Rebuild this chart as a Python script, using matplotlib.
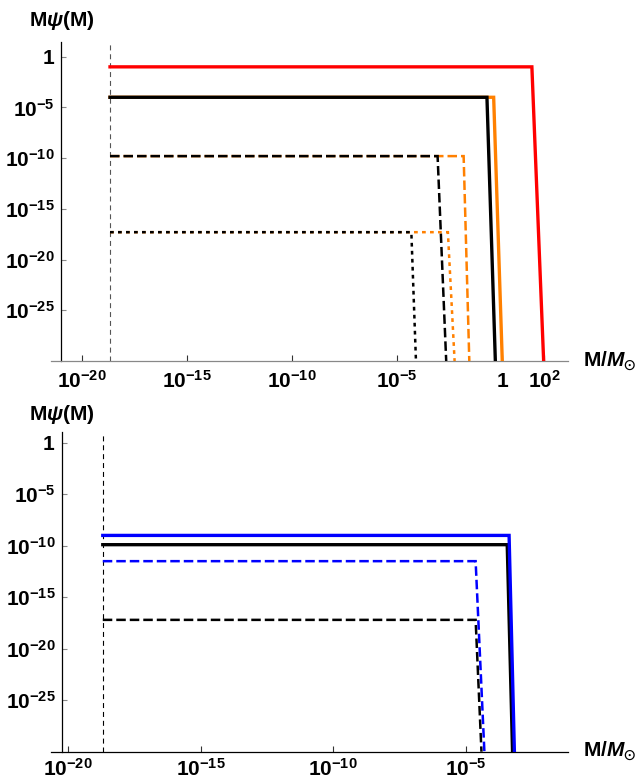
import numpy as np
import matplotlib
matplotlib.use('Agg')
import matplotlib.pyplot as plt

plt.rcParams['mathtext.fontset'] = 'custom'
plt.rcParams['mathtext.rm'] = 'Liberation Sans'
plt.rcParams['mathtext.bf'] = 'Liberation Sans:bold'
plt.rcParams['mathtext.it'] = 'Liberation Sans:bold:italic'
plt.rcParams['mathtext.fallback'] = 'stix'
plt.rcParams['font.family'] = ['Liberation Sans', 'DejaVu Sans']
plt.rcParams['font.weight'] = 'bold'

# ---------------- data ----------------
M_MIN = 10 ** -18.68          # lower mass cut (vertical dashed line)
Y_FLOOR = 1e-30

# top panel curves
top_colors = ['#FF8000', 'black', '#FF8000', 'black', '#FF8000', 'black', '#FF0000']
top_styles = ['solid', 'solid', 'dashed', 'dashed', 'dotted', 'dotted', 'solid']
top_levels = [1e-4, 1e-4, 10 ** -9.8, 10 ** -9.8, 10 ** -17.3, 10 ** -17.3, 1e-1]
top_knees = [10 ** -0.41, 10 ** -0.73, 10 ** -1.84, 10 ** -3.08, 10 ** -2.59, 10 ** -4.33, 10 ** 1.41]
top_ends = [10 ** 0.0, 10 ** -0.33, 10 ** -1.57, 10 ** -2.67, 10 ** -2.27, 10 ** -4.11, 10 ** 1.97]

# bottom panel curves
bot_colors = ['black', 'blue', 'black', 'blue']
bot_styles = ['solid', 'solid', 'dashed', 'dashed']
bot_levels = [10 ** -9.9, 1e-9, 10 ** -17.2, 10 ** -11.5]
bot_knees = [10 ** -3.45, 10 ** -3.38, 10 ** -4.64, 10 ** -4.64]
bot_ends = [10 ** -3.25, 10 ** -3.18, 10 ** -4.42, 10 ** -4.31]

y_tick_vals = [1, 1e-5, 1e-10, 1e-15, 1e-20, 1e-25]
y_tick_labels = [r'$\mathbf{1}$', r'$\mathbf{10^{-5}}$', r'$\mathbf{10^{-10}}$',
                 r'$\mathbf{10^{-15}}$', r'$\mathbf{10^{-20}}$', r'$\mathbf{10^{-25}}$']
top_x_tick_vals = [1e-20, 1e-15, 1e-10, 1e-5, 1, 1e2]
top_x_tick_labels = [r'$\mathbf{10^{-20}}$', r'$\mathbf{10^{-15}}$', r'$\mathbf{10^{-10}}$',
                     r'$\mathbf{10^{-5}}$', r'$\mathbf{1}$', r'$\mathbf{10^{2}}$']
bot_x_tick_vals = [1e-20, 1e-15, 1e-10, 1e-5]
bot_x_tick_labels = [r'$\mathbf{10^{-20}}$', r'$\mathbf{10^{-15}}$', r'$\mathbf{10^{-10}}$',
                     r'$\mathbf{10^{-5}}$']

W, H = 636, 779
fig = plt.figure(figsize=(W / 100, H / 100), dpi=100)
TICK_FS = 15


def style_line(style):
    if style == 'solid':
        return dict(linestyle='-', lw=2.4)
    if style == 'dashed':
        return dict(linestyle=(0, (3.8, 1.6)), lw=1.8)
    return dict(linestyle=(0, (1.5, 1.7)), lw=1.8)


def make_panel(rect, xlim, ylim, yaxis_x, xaxis_color, ref_color,
               colors, styles, levels, knees, ends, xticks, xticklabels, baseline_pad):
    ax = fig.add_axes(rect)
    ax.set_xscale('log')
    ax.set_yscale('log')
    ax.set_xlim(*xlim)
    ax.set_ylim(*ylim)
    for s in ['top', 'right']:
        ax.spines[s].set_visible(False)
    ax.spines['left'].set_position(('data', yaxis_x))
    ax.spines['left'].set_color('black')
    ax.spines['left'].set_linewidth(0.9)
    ax.spines['bottom'].set_color(xaxis_color)
    ax.spines['bottom'].set_linewidth(0.9)
    ax.patch.set_alpha(0)

    ax.axvline(M_MIN, color=ref_color, lw=0.8, linestyle=(0, (4.5, 3.5)), zorder=1)
    for c, st, lev, kn, en in zip(colors, styles, levels, knees, ends):
        ax.plot([M_MIN, kn, en], [lev, lev, Y_FLOOR], color=c, zorder=3,
                solid_joinstyle='miter', dash_joinstyle='miter',
                dash_capstyle='butt', **style_line(st))

    ax.set_yticks(y_tick_vals, y_tick_labels)
    ax.set_xticks(xticks, xticklabels)
    ax.minorticks_off()
    ax.tick_params(axis='y', direction='in', length=3.5, width=0.8, color='#888888',
                   labelsize=TICK_FS, pad=4.5)
    ax.tick_params(axis='x', direction='in', length=4, width=0.8, color='#333333',
                   labelsize=TICK_FS, pad=baseline_pad)
    for lab in ax.get_xticklabels():
        lab.set_va('baseline')
    return ax


# top panel
ax1 = make_panel([51 / W, 1 - 361 / H, (568 - 51) / W, (361 - 41.7) / H],
                 (10 ** -21.49, 10 ** 3.13), (Y_FLOOR, 10 ** 1.48), 1e-21,
                 '#888888', '#555555',
                 top_colors, top_styles, top_levels, top_knees, top_ends,
                 top_x_tick_vals, top_x_tick_labels, 19)

# bottom panel
ax2 = make_panel([51 / W, 1 - 751.7 / H, (568.3 - 51) / W, (751.7 - 431.7) / H],
                 (10 ** -20.63, 10 ** -1.15), (Y_FLOOR, 10 ** 1.07), 10 ** -20.23,
                 'black', 'black',
                 bot_colors, bot_styles, bot_levels, bot_knees, bot_ends,
                 bot_x_tick_vals, bot_x_tick_labels, 17)

ylab = r'$\mathbf{M}\psi\mathbf{(M)}$'
xlab = r'$\mathbf{M/}M_{\odot}$'
fig.text(62 / W, 1 - 21 / H, ylab, ha='center', va='center', fontsize=15)
fig.text(62 / W, 1 - 415 / H, ylab, ha='center', va='center', fontsize=15)
fig.text(583 / W, 1 - 367 / H, xlab, ha='left', va='baseline', fontsize=15)
fig.text(583 / W, 1 - 757 / H, xlab, ha='left', va='baseline', fontsize=15)

fig.savefig('out.png', dpi=100)
